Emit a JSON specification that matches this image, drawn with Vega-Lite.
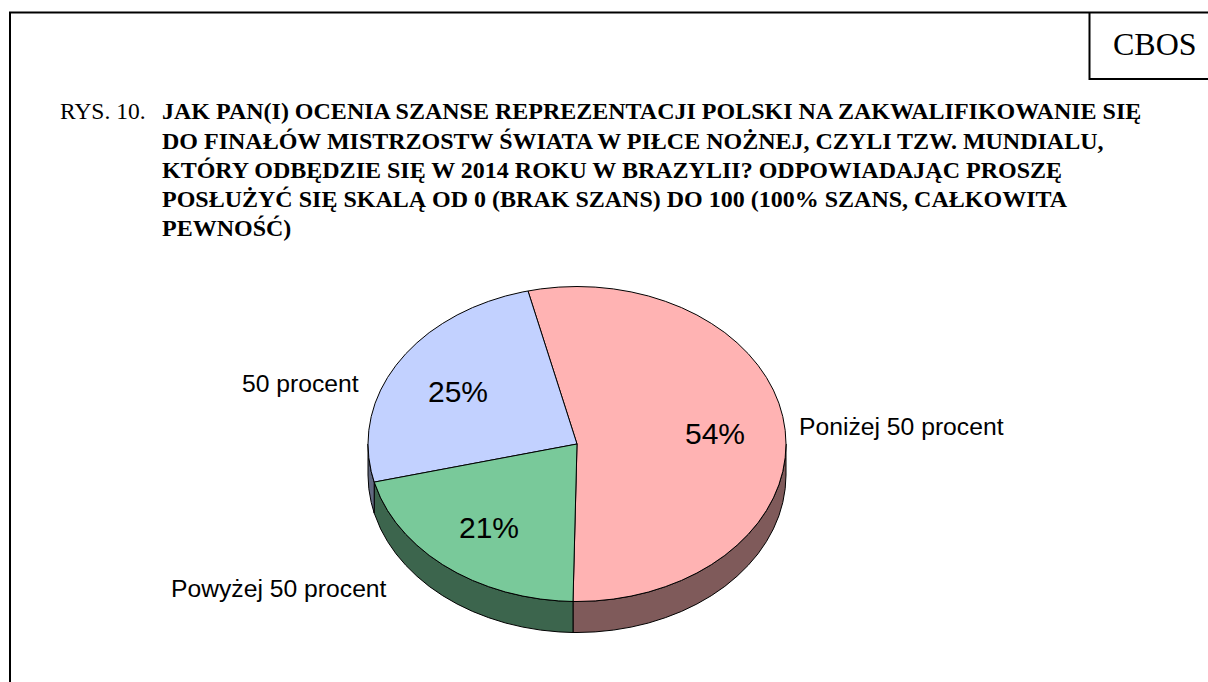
{"$schema":"https://vega.github.io/schema/vega-lite/v6.json","width":1208,"height":682,"padding":0,"autosize":"none","background":"white","view":{"stroke":null},
"layer":[
{"data":{"values":[
{"part":"frame","i":1,"x":1208,"y":12.5},{"part":"frame","i":2,"x":10,"y":12.5},{"part":"frame","i":3,"x":10,"y":682},
{"part":"box","i":1,"x":1089.5,"y":12.5},{"part":"box","i":2,"x":1089.5,"y":79},{"part":"box","i":3,"x":1208,"y":79}]},
"mark":{"type":"line","stroke":"black","strokeWidth":2,"clip":true},
"encoding":{"x":{"field":"x","type":"quantitative","scale":{"domain":[0,1208],"nice":false,"zero":false},"axis":null},"y":{"field":"y","type":"quantitative","scale":{"domain":[682,0],"nice":false,"zero":false},"axis":null},"detail":{"field":"part"},"order":{"field":"i","type":"quantitative"}}},
{"data":{"values":[
{"part":"Poniżej rim","i":1,"x":786,"y":444},{"part":"Poniżej rim","i":2,"x":785.2,"y":457.7},{"part":"Poniżej rim","i":3,"x":782.8,"y":471.4},{"part":"Poniżej rim","i":4,"x":778.9,"y":484.8},{"part":"Poniżej rim","i":5,"x":773.4,"y":497.9},{"part":"Poniżej rim","i":6,"x":766.4,"y":510.6},{"part":"Poniżej rim","i":7,"x":758,"y":522.8},{"part":"Poniżej rim","i":8,"x":748.2,"y":534.3},{"part":"Poniżej rim","i":9,"x":737.1,"y":545.2},{"part":"Poniżej rim","i":10,"x":724.8,"y":555.4},{"part":"Poniżej rim","i":11,"x":711.3,"y":564.7},{"part":"Poniżej rim","i":12,"x":696.9,"y":573},{"part":"Poniżej rim","i":13,"x":681.5,"y":580.4},{"part":"Poniżej rim","i":14,"x":665.3,"y":586.7},{"part":"Poniżej rim","i":15,"x":648.5,"y":592},{"part":"Poniżej rim","i":16,"x":631.1,"y":596.1},{"part":"Poniżej rim","i":17,"x":613.3,"y":599.1},{"part":"Poniżej rim","i":18,"x":595.2,"y":600.9},{"part":"Poniżej rim","i":19,"x":577,"y":601.5},{"part":"Poniżej rim","i":20,"x":573,"y":601.5},
{"part":"Poniżej rim","i":21,"x":573,"y":632.5},{"part":"Poniżej rim","i":22,"x":577,"y":632.5},{"part":"Poniżej rim","i":23,"x":595.2,"y":631.9},{"part":"Poniżej rim","i":24,"x":613.3,"y":630.1},{"part":"Poniżej rim","i":25,"x":631.1,"y":627.1},{"part":"Poniżej rim","i":26,"x":648.5,"y":623},{"part":"Poniżej rim","i":27,"x":665.3,"y":617.7},{"part":"Poniżej rim","i":28,"x":681.5,"y":611.4},{"part":"Poniżej rim","i":29,"x":696.9,"y":604},{"part":"Poniżej rim","i":30,"x":711.3,"y":595.7},{"part":"Poniżej rim","i":31,"x":724.8,"y":586.4},{"part":"Poniżej rim","i":32,"x":737.1,"y":576.2},{"part":"Poniżej rim","i":33,"x":748.2,"y":565.3},{"part":"Poniżej rim","i":34,"x":758,"y":553.8},{"part":"Poniżej rim","i":35,"x":766.4,"y":541.6},{"part":"Poniżej rim","i":36,"x":773.4,"y":528.9},{"part":"Poniżej rim","i":37,"x":778.9,"y":515.8},{"part":"Poniżej rim","i":38,"x":782.8,"y":502.4},{"part":"Poniżej rim","i":39,"x":785.2,"y":488.7},{"part":"Poniżej rim","i":40,"x":786,"y":475},{"part":"Poniżej rim","i":41,"x":786,"y":444},
{"part":"Powyżej rim","i":1,"x":374.2,"y":482.1},{"part":"Powyżej rim","i":2,"x":380.6,"y":497.9},{"part":"Powyżej rim","i":3,"x":387.6,"y":510.6},{"part":"Powyżej rim","i":4,"x":396,"y":522.8},{"part":"Powyżej rim","i":5,"x":405.8,"y":534.3},{"part":"Powyżej rim","i":6,"x":416.9,"y":545.2},{"part":"Powyżej rim","i":7,"x":429.2,"y":555.4},{"part":"Powyżej rim","i":8,"x":442.7,"y":564.7},{"part":"Powyżej rim","i":9,"x":457.1,"y":573},{"part":"Powyżej rim","i":10,"x":472.5,"y":580.4},{"part":"Powyżej rim","i":11,"x":488.7,"y":586.7},{"part":"Powyżej rim","i":12,"x":505.5,"y":592},{"part":"Powyżej rim","i":13,"x":522.9,"y":596.1},{"part":"Powyżej rim","i":14,"x":540.7,"y":599.1},{"part":"Powyżej rim","i":15,"x":558.8,"y":600.9},{"part":"Powyżej rim","i":16,"x":573,"y":601.5},
{"part":"Powyżej rim","i":17,"x":573,"y":632.5},{"part":"Powyżej rim","i":18,"x":558.8,"y":631.9},{"part":"Powyżej rim","i":19,"x":540.7,"y":630.1},{"part":"Powyżej rim","i":20,"x":522.9,"y":627.1},{"part":"Powyżej rim","i":21,"x":505.5,"y":623},{"part":"Powyżej rim","i":22,"x":488.7,"y":617.7},{"part":"Powyżej rim","i":23,"x":472.5,"y":611.4},{"part":"Powyżej rim","i":24,"x":457.1,"y":604},{"part":"Powyżej rim","i":25,"x":442.7,"y":595.7},{"part":"Powyżej rim","i":26,"x":429.2,"y":586.4},{"part":"Powyżej rim","i":27,"x":416.9,"y":576.2},{"part":"Powyżej rim","i":28,"x":405.8,"y":565.3},{"part":"Powyżej rim","i":29,"x":396,"y":553.8},{"part":"Powyżej rim","i":30,"x":387.6,"y":541.6},{"part":"Powyżej rim","i":31,"x":380.6,"y":528.9},{"part":"Powyżej rim","i":32,"x":374.2,"y":513.1},{"part":"Powyżej rim","i":33,"x":374.2,"y":482.1},
{"part":"50 rim","i":1,"x":368,"y":444},{"part":"50 rim","i":2,"x":368.8,"y":457.7},{"part":"50 rim","i":3,"x":371.2,"y":471.4},{"part":"50 rim","i":4,"x":374.2,"y":482.1},{"part":"50 rim","i":5,"x":374.2,"y":513.1},{"part":"50 rim","i":6,"x":371.2,"y":502.4},{"part":"50 rim","i":7,"x":368.8,"y":488.7},{"part":"50 rim","i":8,"x":368,"y":475},{"part":"50 rim","i":9,"x":368,"y":444},
{"part":"Poniżej 50 procent","i":1,"x":577,"y":444},{"part":"Poniżej 50 procent","i":2,"x":528,"y":291},{"part":"Poniżej 50 procent","i":3,"x":540.7,"y":288.9},{"part":"Poniżej 50 procent","i":4,"x":558.8,"y":287.1},{"part":"Poniżej 50 procent","i":5,"x":577,"y":286.5},{"part":"Poniżej 50 procent","i":6,"x":595.2,"y":287.1},{"part":"Poniżej 50 procent","i":7,"x":613.3,"y":288.9},{"part":"Poniżej 50 procent","i":8,"x":631.1,"y":291.9},{"part":"Poniżej 50 procent","i":9,"x":648.5,"y":296},{"part":"Poniżej 50 procent","i":10,"x":665.3,"y":301.3},{"part":"Poniżej 50 procent","i":11,"x":681.5,"y":307.6},{"part":"Poniżej 50 procent","i":12,"x":696.9,"y":315},{"part":"Poniżej 50 procent","i":13,"x":711.3,"y":323.4},{"part":"Poniżej 50 procent","i":14,"x":724.8,"y":332.6},{"part":"Poniżej 50 procent","i":15,"x":737.1,"y":342.8},{"part":"Poniżej 50 procent","i":16,"x":748.2,"y":353.7},{"part":"Poniżej 50 procent","i":17,"x":758,"y":365.3},{"part":"Poniżej 50 procent","i":18,"x":766.4,"y":377.4},{"part":"Poniżej 50 procent","i":19,"x":773.4,"y":390.1},{"part":"Poniżej 50 procent","i":20,"x":778.9,"y":403.2},{"part":"Poniżej 50 procent","i":21,"x":782.8,"y":416.6},{"part":"Poniżej 50 procent","i":22,"x":785.2,"y":430.3},{"part":"Poniżej 50 procent","i":23,"x":786,"y":444},{"part":"Poniżej 50 procent","i":24,"x":785.2,"y":457.7},{"part":"Poniżej 50 procent","i":25,"x":782.8,"y":471.4},{"part":"Poniżej 50 procent","i":26,"x":778.9,"y":484.8},{"part":"Poniżej 50 procent","i":27,"x":773.4,"y":497.9},{"part":"Poniżej 50 procent","i":28,"x":766.4,"y":510.6},{"part":"Poniżej 50 procent","i":29,"x":758,"y":522.8},{"part":"Poniżej 50 procent","i":30,"x":748.2,"y":534.3},{"part":"Poniżej 50 procent","i":31,"x":737.1,"y":545.2},{"part":"Poniżej 50 procent","i":32,"x":724.8,"y":555.4},{"part":"Poniżej 50 procent","i":33,"x":711.3,"y":564.7},{"part":"Poniżej 50 procent","i":34,"x":696.9,"y":573},{"part":"Poniżej 50 procent","i":35,"x":681.5,"y":580.4},{"part":"Poniżej 50 procent","i":36,"x":665.3,"y":586.7},{"part":"Poniżej 50 procent","i":37,"x":648.5,"y":592},{"part":"Poniżej 50 procent","i":38,"x":631.1,"y":596.1},{"part":"Poniżej 50 procent","i":39,"x":613.3,"y":599.1},{"part":"Poniżej 50 procent","i":40,"x":595.2,"y":600.9},{"part":"Poniżej 50 procent","i":41,"x":577,"y":601.5},{"part":"Poniżej 50 procent","i":42,"x":573,"y":601.5},{"part":"Poniżej 50 procent","i":43,"x":577,"y":444},
{"part":"50 procent","i":1,"x":577,"y":444},{"part":"50 procent","i":2,"x":528,"y":291},{"part":"50 procent","i":3,"x":522.9,"y":291.9},{"part":"50 procent","i":4,"x":505.5,"y":296},{"part":"50 procent","i":5,"x":488.7,"y":301.3},{"part":"50 procent","i":6,"x":472.5,"y":307.6},{"part":"50 procent","i":7,"x":457.1,"y":315},{"part":"50 procent","i":8,"x":442.7,"y":323.4},{"part":"50 procent","i":9,"x":429.2,"y":332.6},{"part":"50 procent","i":10,"x":416.9,"y":342.8},{"part":"50 procent","i":11,"x":405.8,"y":353.7},{"part":"50 procent","i":12,"x":396,"y":365.3},{"part":"50 procent","i":13,"x":387.6,"y":377.4},{"part":"50 procent","i":14,"x":380.6,"y":390.1},{"part":"50 procent","i":15,"x":375.1,"y":403.2},{"part":"50 procent","i":16,"x":371.2,"y":416.6},{"part":"50 procent","i":17,"x":368.8,"y":430.3},{"part":"50 procent","i":18,"x":368,"y":444},{"part":"50 procent","i":19,"x":368.8,"y":457.7},{"part":"50 procent","i":20,"x":371.2,"y":471.4},{"part":"50 procent","i":21,"x":374.2,"y":482.1},{"part":"50 procent","i":22,"x":577,"y":444},
{"part":"Powyżej 50 procent","i":1,"x":577,"y":444},{"part":"Powyżej 50 procent","i":2,"x":374.2,"y":482.1},{"part":"Powyżej 50 procent","i":3,"x":380.6,"y":497.9},{"part":"Powyżej 50 procent","i":4,"x":387.6,"y":510.6},{"part":"Powyżej 50 procent","i":5,"x":396,"y":522.8},{"part":"Powyżej 50 procent","i":6,"x":405.8,"y":534.3},{"part":"Powyżej 50 procent","i":7,"x":416.9,"y":545.2},{"part":"Powyżej 50 procent","i":8,"x":429.2,"y":555.4},{"part":"Powyżej 50 procent","i":9,"x":442.7,"y":564.7},{"part":"Powyżej 50 procent","i":10,"x":457.1,"y":573},{"part":"Powyżej 50 procent","i":11,"x":472.5,"y":580.4},{"part":"Powyżej 50 procent","i":12,"x":488.7,"y":586.7},{"part":"Powyżej 50 procent","i":13,"x":505.5,"y":592},{"part":"Powyżej 50 procent","i":14,"x":522.9,"y":596.1},{"part":"Powyżej 50 procent","i":15,"x":540.7,"y":599.1},{"part":"Powyżej 50 procent","i":16,"x":558.8,"y":600.9},{"part":"Powyżej 50 procent","i":17,"x":573,"y":601.5},{"part":"Powyżej 50 procent","i":18,"x":577,"y":444}]},
"mark":{"type":"line","stroke":"black","strokeWidth":1,"strokeJoin":"round"},
"encoding":{"x":{"field":"x","type":"quantitative"},"y":{"field":"y","type":"quantitative"},"order":{"field":"i","type":"quantitative"},
"fill":{"field":"part","type":"nominal","legend":null,"scale":{"domain":["Poniżej 50 procent","50 procent","Powyżej 50 procent","Poniżej rim","50 rim","Powyżej rim"],"range":["#FFB3B3","#C2D1FF","#79C99A","#7F5A5A","#616880","#3C654D"]}}}},
{"data":{"values":[
{"x":162,"y":119,"t":"JAK PAN(I) OCENIA SZANSE REPREZENTACJI POLSKI NA ZAKWALIFIKOWANIE SIĘ"},
{"x":162,"y":148.5,"t":"DO FINAŁÓW MISTRZOSTW ŚWIATA W PIŁCE NOŻNEJ, CZYLI TZW. MUNDIALU,"},
{"x":162,"y":178,"t":"KTÓRY ODBĘDZIE SIĘ W 2014 ROKU W BRAZYLII? ODPOWIADAJĄC PROSZĘ"},
{"x":162,"y":207,"t":"POSŁUŻYĆ SIĘ SKALĄ OD 0 (BRAK SZANS) DO 100 (100% SZANS, CAŁKOWITA"},
{"x":162,"y":236,"t":"PEWNOŚĆ)"}]},
"mark":{"type":"text","align":"left","baseline":"alphabetic","font":"Liberation Serif","fontWeight":"bold","fontSize":18.0,"color":"black"},
"encoding":{"x":{"field":"x","type":"quantitative"},"y":{"field":"y","type":"quantitative"},"text":{"field":"t"},"size":{"value":24}}},
{"data":{"values":[{"x":60,"y":119,"t":"RYS. 10."}]},
"mark":{"type":"text","align":"left","baseline":"alphabetic","font":"Liberation Serif","fontSize":23.5,"color":"black"},
"encoding":{"x":{"field":"x","type":"quantitative"},"y":{"field":"y","type":"quantitative"},"text":{"field":"t"}}},
{"data":{"values":[{"x":1113,"y":55,"t":"CBOS"}]},
"mark":{"type":"text","align":"left","baseline":"alphabetic","font":"Liberation Serif","fontSize":32,"color":"black"},
"encoding":{"x":{"field":"x","type":"quantitative"},"y":{"field":"y","type":"quantitative"},"text":{"field":"t"}}},
{"data":{"values":[{"x":799,"y":435,"t":"Poniżej 50 procent"},{"x":242,"y":392,"t":"50 procent"},{"x":171,"y":597,"t":"Powyżej 50 procent"}]},
"mark":{"type":"text","align":"left","baseline":"alphabetic","font":"Liberation Sans","fontSize":24.7,"color":"black"},
"encoding":{"x":{"field":"x","type":"quantitative"},"y":{"field":"y","type":"quantitative"},"text":{"field":"t"}}},
{"data":{"values":[{"x":685,"y":444,"t":"54%"},{"x":428,"y":402,"t":"25%"},{"x":459,"y":538,"t":"21%"}]},
"mark":{"type":"text","align":"left","baseline":"alphabetic","font":"Liberation Sans","fontSize":30,"color":"black"},
"encoding":{"x":{"field":"x","type":"quantitative"},"y":{"field":"y","type":"quantitative"},"text":{"field":"t"}}}
]}
